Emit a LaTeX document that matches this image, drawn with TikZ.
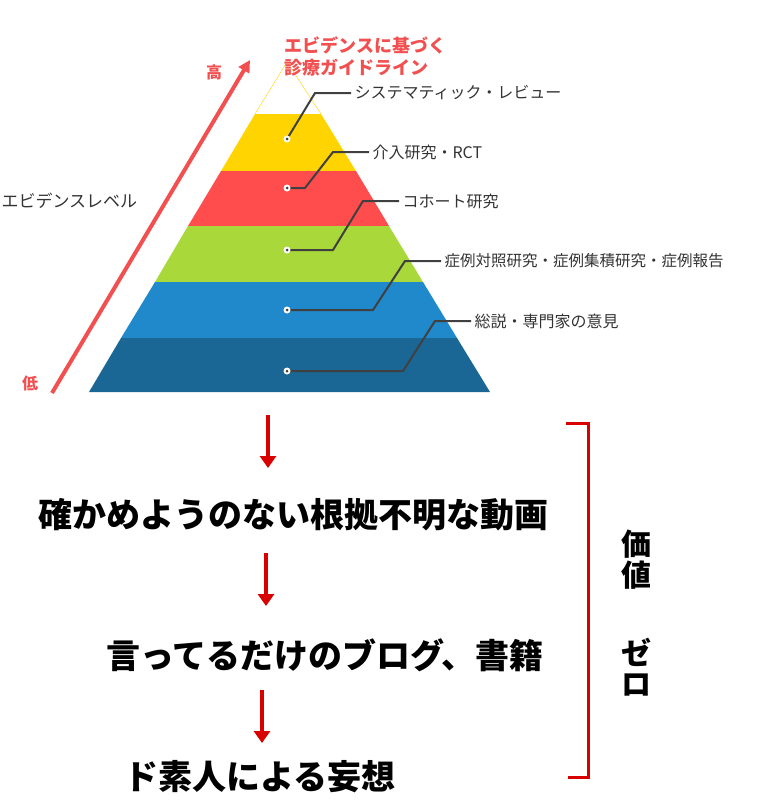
\documentclass[tikz,border=0pt]{standalone}
\usepackage{fontspec}
\newfontfamily\cjk{Noto Sans CJK JP}
\usetikzlibrary{arrows.meta}
\colorlet{lead}{black!75}
\definecolor{hot}{HTML}{F25050}
\definecolor{lvA}{HTML}{FFD400}
\definecolor{lvB}{HTML}{FF4D4D}
\definecolor{lvC}{HTML}{A8D83A}
\definecolor{lvD}{HTML}{2089CB}
\definecolor{lvE}{HTML}{1A6796}

\begin{document}
\begin{tikzpicture}[x=1pt,y=-1pt,font=\cjk,
    lbl/.style={anchor=west,font=\cjk\fontsize{16}{16}\selectfont,text=black!80},
    big/.style={font=\cjk\bfseries\fontsize{34}{34}\selectfont},
    dwn/.style={red!85!black,line width=3.5pt,-{Triangle[width=16pt,length=12pt]}}]
            \useasboundingbox (0,0) rectangle (780,808);
            % pyramid
            \fill [lvA] (255,114) -- (321,114) -- (356,171) -- (221,171) -- cycle;
            \fill [lvB] (221,171) -- (356,171) -- (389,226) -- (188,226) -- cycle;
            \fill [lvC] (188,226) -- (389,226) -- (423,282) -- (155,282) -- cycle;
            \fill [lvD] (155,282) -- (423,282) -- (457,338) -- (121,338) -- cycle;
            \fill [lvE] (121,338) -- (457,338) -- (490,392) -- (89,392) -- cycle;
            \draw [lvA,thin] (255,114) -- (287,62) -- (321,114);
            % leaders
            \foreach \y/\a/\b/\t/\n in {139/287/315/93/1,188/305/333/152/2,250/333/363/201/3,310/373/405/261/4,371/403/435/321/5}{
                \coordinate (d\n) at (287,\y);
                \draw [lead,line width=2pt] (d\n) -- (\a,\y) -- (\b,\t) -- ++(36,0) coordinate (e\n);
                \fill [white] (d\n) circle (3.5);
                \fill [lead] (d\n) circle (1.5);
            }
            \node [lbl] (l1) at (e1) {システマティック・レビュー};
            \node [lbl] (l2) at (e2) {介入研究・RCT};
            \node [lbl] (l3) at (e3) {コホート研究};
            \node [lbl,font=\cjk\fontsize{15.5}{16}\selectfont] (l4) at (e4) {症例対照研究・症例集積研究・症例報告};
            \node [lbl] (l5) at (e5) {総説・専門家の意見};
            % level arrow
            \coordinate (lo) at (52,393);
            \coordinate (hi) at (250,60);
            \draw [hot,line width=4pt,-{Triangle[width=12pt,length=12pt]}] (lo) -- (hi);
            \node [hot,font=\cjk\bfseries\fontsize{16}{16}\selectfont] (hiL) at (214,72) {高};
            \node [hot,font=\cjk\bfseries\fontsize{16}{16}\selectfont] (loL) at (30,383) {低};
            \node [lbl,font=\cjk\fontsize{17}{17}\selectfont] (lvl) at (-2,201) {エビデンスレベル};
            \node [hot,anchor=west,align=left,font=\cjk\bfseries\fontsize{18}{22}\selectfont] (gl) at (281,56) {エビデンスに基づく\\診療ガイドライン};
            % lower part
            \node [big] (t1) at (293,515) {確かめようのない根拠不明な動画};
            \node [big] (t2) at (325,655) {言ってるだけのブログ、書籍};
            \node [big] (t3) at (260,777) {ド素人による妄想};
            \coordinate (a1) at (268,415);
            \coordinate (a2) at (266,553);
            \coordinate (a3) at (262,690);
            \draw [dwn] (a1) -- ++(0,53);
            \draw [dwn] (a2) -- ++(0,53);
            \draw [dwn] (a3) -- ++(0,53);
            \draw [red!85!black,line width=3pt] (566,423) -- (588,423) -- (588,777) -- (568,777);
            \node [font=\cjk\bfseries\fontsize{30}{31}\selectfont,align=center] (v1) at (636,560) {価\\値};
            \node [font=\cjk\bfseries\fontsize{30}{31}\selectfont,align=center] (v2) at (636,667) {ゼ\\ロ};
        \end{tikzpicture}
\end{document}
